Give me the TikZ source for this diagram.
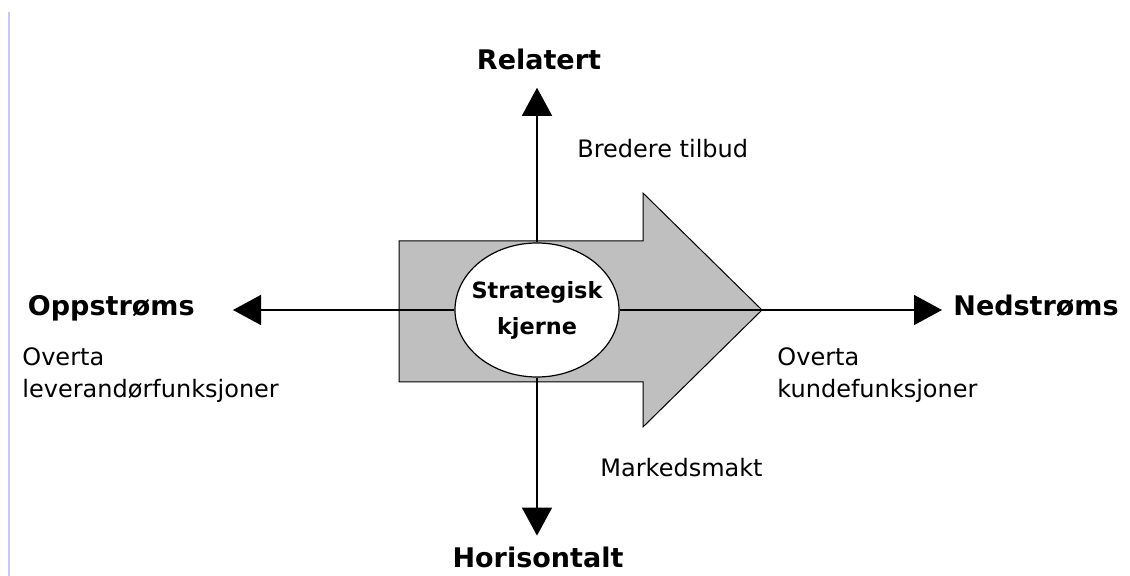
\documentclass[tikz,border=0pt]{standalone}
\usepackage{fontspec}
\setmainfont{DejaVu Sans}
\usetikzlibrary{arrows.meta,shapes.geometric,positioning}
\begin{document}
\begin{tikzpicture}[x=0.5pt,y=-0.5pt,
    axis/.style={line width=0.8pt,-{Triangle[length=14pt,width=15pt]}},
    head/.style={font=\fontsize{13.5}{16}\selectfont\bfseries,inner sep=0pt},
    note/.style={font=\fontsize{12}{16}\selectfont,inner sep=0pt,align=left}]
    \useasboundingbox (0,0) rectangle (1130,576);
    \draw[line width=1pt,blue!22] (9,12) -- (9,576);
    % big arrow
    \draw[fill=black!25,line width=0.5pt] (399,241) -- (643,241) -- (643,193) -- (762,310)
        -- (643,427) -- (643,382) -- (399,382) -- cycle;
    \node[ellipse,draw,fill=white,line width=0.6pt,minimum width=82pt,minimum height=67pt,inner sep=0pt] (core) at (537,310) {};
    \node[font=\fontsize{11.2}{18}\selectfont\bfseries,align=center,inner sep=0pt] (corelabel) at (core.center) {Strategisk\\kjerne};

    \node[head,anchor=base] (rel) at (539,70) {Relatert};
    \node[head,anchor=base] (hor) at (538,568) {Horisontalt};
    \node[head,anchor=base west] (ned) at (953,316) {Nedstrøms};
    \node[head,anchor=base east] (opp) at (195,316) {Oppstrøms};

    \node[note,anchor=base west] (bredere) at (577,158) {Bredere tilbud};
    \node[note,anchor=base west] (marked) at (600,477) {Markedsmakt};
    \node[note,anchor=north west] (kunde) at (777,347) {Overta\\kundefunksjoner};
    \node[note,anchor=north west] (lev) at (22,347) {Overta\\leverandørfunksjoner};

    \draw[axis,shorten >=8.5pt] (core.north) -- (core.north |- rel.south);
    \draw[axis,shorten >=5.75pt] (core.south) -- (core.south |- hor.north);
    \draw[axis,shorten >=5.5pt] (core.east) -- (core.east -| ned.west);
    \draw[axis,shorten >=19pt] (core.west) -- (core.west -| opp.east);
\end{tikzpicture}
\end{document}
